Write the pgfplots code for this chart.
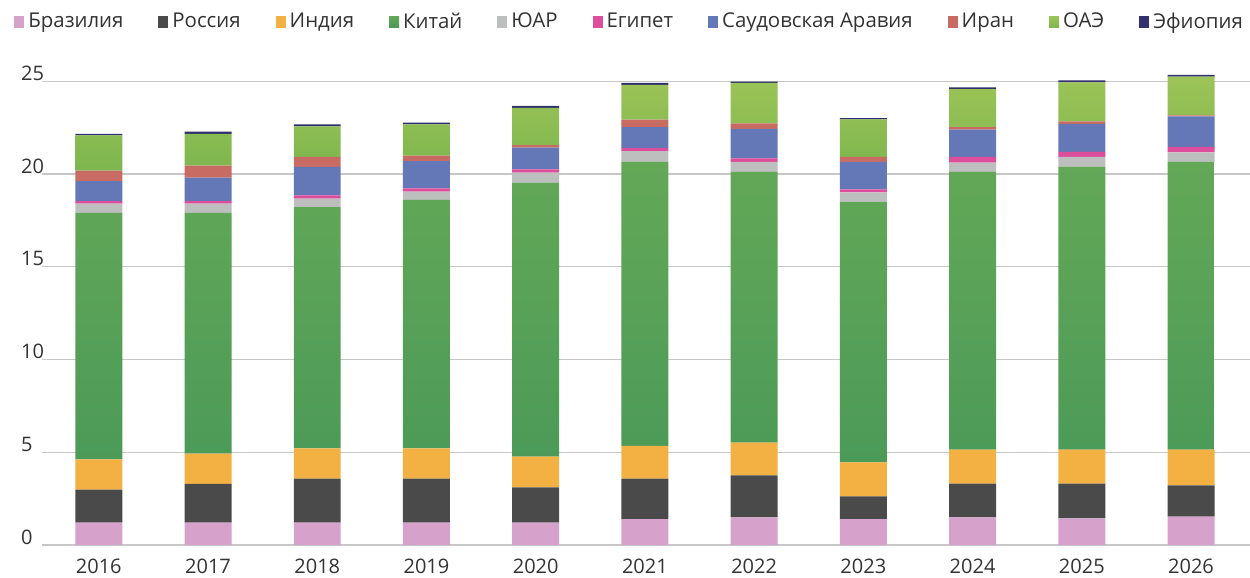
\documentclass[border=0pt]{standalone}
\usepackage{pgfplots}
\pgfplotsset{compat=1.18}
\usepackage{pgfplotstable}
\usepackage{fontspec}
\setmainfont{Open Sans}

\definecolor{cbra}{HTML}{D6A2CC}
\definecolor{crus}{HTML}{4A4A4A}
\definecolor{cind}{HTML}{F3B143}
\definecolor{cchnT}{HTML}{63A857}
\definecolor{cchnB}{HTML}{4C9A58}
\definecolor{csaf}{HTML}{BDBFBE}
\definecolor{cegy}{HTML}{DE4D9C}
\definecolor{csau}{HTML}{6478B7}
\definecolor{cirn}{HTML}{C86C63}
\definecolor{cuaeT}{HTML}{9DC457}
\definecolor{cuaeB}{HTML}{7DB64F}
\definecolor{ceth}{HTML}{2F306C}
\definecolor{txt}{HTML}{333333}

\pgfplotstableread{
x  bra  rus  ind  chn   saf  egy  sau  irn  uae  eth
0  1.20 1.78 1.64 13.29 0.49 0.14 1.08 0.56 1.91 0.07
1  1.20 2.09 1.63 12.99 0.49 0.14 1.26 0.65 1.72 0.11
2  1.20 2.38 1.63 13.01 0.45 0.18 1.53 0.54 1.65 0.11
3  1.20 2.38 1.63 13.39 0.45 0.18 1.47 0.29 1.69 0.09
4  1.20 1.91 1.65 14.77 0.54 0.18 1.17 0.14 2.00 0.11
5  1.40 2.18 1.77 15.31 0.58 0.16 1.13 0.40 1.88 0.10
6  1.49 2.27 1.76 14.60 0.54 0.19 1.58 0.30 2.18 0.07
7  1.40 1.22 1.84 14.03 0.52 0.16 1.49 0.26 2.03 0.07
8  1.49 1.82 1.83 14.97 0.50 0.31 1.47 0.14 2.05 0.09
9  1.44 1.87 1.83 15.26 0.52 0.28 1.51 0.13 2.10 0.11
10 1.53 1.69 1.92 15.52 0.51 0.29 1.65 0.05 2.09 0.10
}\datatable

\begin{document}
\begin{tikzpicture}
\begin{axis}[
  ybar stacked,
  scale only axis,
  width=604pt, height=236.5pt,
  bar width=0.43,
  xmin=-0.52, xmax=10.54,
  ymin=0, ymax=25.5,
  xtick={0,...,10},
  xticklabels={2016,2017,2018,2019,2020,2021,2022,2023,2024,2025,2026},
  ytick={0,5,...,25},
  axis line style={draw=none},
  major tick length=0pt,
  ymajorgrids,
  grid style={draw=black!22, line width=0.7pt},
  tick label style={font=\fontsize{10}{12}\selectfont, text=txt},
  xticklabel style={yshift=-3.5pt},
  yticklabel style={anchor=west, xshift=-14pt, yshift=4pt},
  /pgf/number format/assume math mode=true,
  legend columns=10,
  legend style={draw=none, fill=none, at={(axis description cs:0,1)}, anchor=west,
    xshift=-17pt, yshift=25pt, font=\fontsize{10.2}{12}\selectfont, text=txt,
    /tikz/every even column/.append style={column sep=15.5pt}},
  legend image code/.code={\fill[#1] (0pt,-2.8pt) rectangle (5pt,2.8pt);},
]
\addplot[fill=cbra, draw=none] table[x=x, y=bra] {\datatable};
\addplot[fill=crus, draw=none] table[x=x, y=rus] {\datatable};
\addplot[fill=cind, draw=none] table[x=x, y=ind] {\datatable};
\addplot[top color=cchnT, bottom color=cchnB, draw=none] table[x=x, y=chn] {\datatable};
\addplot[fill=csaf, draw=none] table[x=x, y=saf] {\datatable};
\addplot[fill=cegy, draw=none] table[x=x, y=egy] {\datatable};
\addplot[fill=csau, draw=none] table[x=x, y=sau] {\datatable};
\addplot[fill=cirn, draw=none] table[x=x, y=irn] {\datatable};
\addplot[top color=cuaeT, bottom color=cuaeB, draw=none] table[x=x, y=uae] {\datatable};
\addplot[fill=ceth, draw=none] table[x=x, y=eth] {\datatable};
\legend{Бразилия, Россия, Индия, Китай, ЮАР, Египет, Саудовская Аравия, Иран, ОАЭ, Эфиопия}
\end{axis}
\pgfresetboundingbox
\path (-21pt,-16.5pt) rectangle (604pt,272.5pt);
\end{tikzpicture}
\end{document}
